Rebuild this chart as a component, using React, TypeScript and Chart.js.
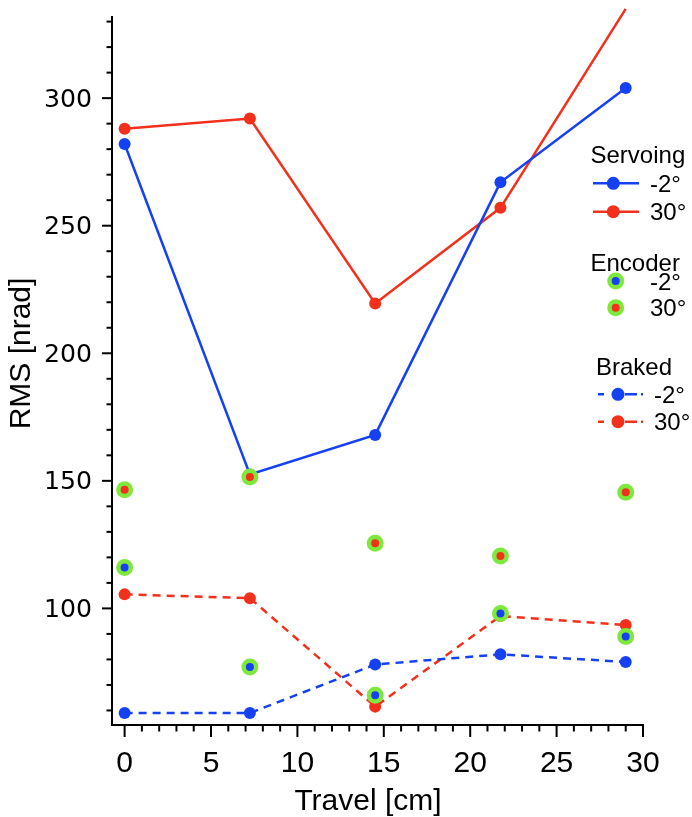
import React, { useEffect, useRef } from 'react';
import { Chart, registerables } from 'chart.js';

Chart.register(...registerables);

// ---- data ----
const travel = [0, 7.25, 14.5, 21.75, 29];
const servoM2 = [282, 152.5, 168, 267, 304];
const servo30 = [288, 292, 219.5, 257, 335];
const encoderM2 = [116, 77, 66, 98, 89];
const encoder30 = [146.5, 151.5, 125.5, 120.5, 145.5];
const brakedM2 = [59, 59, 78, 82, 79];
const braked30 = [105.5, 104, 61.5, 97, 93.5];

const xTickValues = [0, 5, 10, 15, 20, 25, 30];
const xTickLabels = ['0', '5', '10', '15', '20', '25', '30'];
const yTickValues = [100, 150, 200, 250, 300];
const yTickLabels = ['100', '150', '200', '250', '300'];

const legendGroups = ['Servoing', 'Encoder', 'Braked'];
const legendItems = ['-2°', '30°'];

const xTitle = 'Travel [cm]';
const yTitle = 'RMS [nrad]';

// ---- style ----
const BLUE = '#1541f2';
const RED = '#f2301b';
const GREEN = '#7ee83c';

const pts = (ys: number[]) => travel.map((x, i) => ({ x, y: ys[i] }));

const axisPlugin = {
  id: 'customAxes',
  afterDraw(chart: any) {
    const { ctx, scales, chartArea } = chart;
    const xs = scales.x;
    const ys = scales.y;
    ctx.save();
    ctx.strokeStyle = '#000';
    ctx.fillStyle = '#000';
    ctx.lineWidth = 2;
    // y ticks
    for (let v = 60; v <= 330; v += 10) {
      const py = ys.getPixelForValue(v);
      const len = v % 50 === 0 ? 10 : 5.5;
      ctx.beginPath();
      ctx.moveTo(chartArea.left - len, py);
      ctx.lineTo(chartArea.left, py);
      ctx.stroke();
    }
    // x ticks
    for (let v = 0; v <= 30; v += 1) {
      const px = xs.getPixelForValue(v);
      const len = v % 5 === 0 ? 12 : 6.5;
      ctx.beginPath();
      ctx.moveTo(px, chartArea.bottom);
      ctx.lineTo(px, chartArea.bottom + len);
      ctx.stroke();
    }
    // y tick labels
    ctx.font = "24px 'DejaVu Sans', sans-serif";
    ctx.textAlign = 'right';
    ctx.textBaseline = 'alphabetic';
    yTickValues.forEach((v, i) => {
      const py = ys.getPixelForValue(v);
      ctx.save();
      ctx.translate(chartArea.left - 20, py + 8.5);
      ctx.scale(1.05, 1);
      ctx.fillText(yTickLabels[i], 0, 0);
      ctx.restore();
    });
    // x tick labels
    ctx.font = "30px 'Liberation Sans', Arial, sans-serif";
    ctx.textAlign = 'center';
    xTickValues.forEach((v, i) => {
      const px = xs.getPixelForValue(v);
      ctx.fillText(xTickLabels[i], px, chartArea.bottom + 47);
    });
    // titles
    ctx.font = "30px 'Liberation Sans', Arial, sans-serif";
    ctx.textAlign = 'center';
    ctx.fillText(xTitle, 368, 810);
    ctx.save();
    ctx.translate(30, 353.5);
    ctx.rotate(-Math.PI / 2);
    ctx.fillText(yTitle, 0, 0);
    ctx.restore();

    // legend
    ctx.font = "24px 'Liberation Sans', Arial, sans-serif";
    ctx.textAlign = 'left';
    const colors = [BLUE, RED];
    // Servoing
    ctx.fillText(legendGroups[0], 590.5, 163);
    [183.3, 211.7].forEach((y, i) => {
      ctx.strokeStyle = colors[i];
      ctx.lineWidth = 2.5;
      ctx.setLineDash([]);
      ctx.beginPath();
      ctx.moveTo(593, y);
      ctx.lineTo(639, y);
      ctx.stroke();
      ctx.fillStyle = colors[i];
      ctx.beginPath();
      ctx.arc(613.3, y, 6.5, 0, Math.PI * 2);
      ctx.fill();
      ctx.fillStyle = '#000';
      ctx.fillText(legendItems[i], 650, y + 8.5);
    });
    // Encoder
    ctx.fillText(legendGroups[1], 590.5, 271);
    [281, 307.7].forEach((y, i) => {
      ctx.fillStyle = colors[i];
      ctx.strokeStyle = GREEN;
      ctx.lineWidth = 4.5;
      ctx.beginPath();
      ctx.arc(615.7, y, 6.25, 0, Math.PI * 2);
      ctx.fill();
      ctx.stroke();
      ctx.fillStyle = '#000';
      ctx.fillText(legendItems[i], 650, y + 8.5);
    });
    // Braked
    ctx.fillText(legendGroups[2], 596, 375);
    [394.3, 421.7].forEach((y, i) => {
      ctx.strokeStyle = colors[i];
      ctx.lineWidth = 2.5;
      ctx.setLineDash([6, 21, 12, 4]);
      ctx.beginPath();
      ctx.moveTo(598, y);
      ctx.lineTo(643, y);
      ctx.stroke();
      ctx.setLineDash([]);
      ctx.fillStyle = colors[i];
      ctx.beginPath();
      ctx.arc(618, y, 6.5, 0, Math.PI * 2);
      ctx.fill();
      ctx.fillStyle = '#000';
      ctx.fillText(legendItems[i], 654, y + 8.5);
    });
    ctx.restore();
  },
};

export default function App() {
  const ref = useRef<HTMLCanvasElement>(null);
  useEffect(() => {
    if (!ref.current) return;
    const servoBase = {
      borderWidth: 2.5,
      pointRadius: 6,
      pointBorderWidth: 0,
      showLine: true,
      clip: false as any,
      order: 1,
    };
    const brakedBase = {
      borderWidth: 2.5,
      borderDash: [8, 6],
      pointRadius: 6,
      pointBorderWidth: 0,
      showLine: true,
      clip: false as any,
      order: 2,
    };
    const encBase = {
      showLine: false,
      pointRadius: 6.25,
      pointBorderWidth: 4.5,
      pointBorderColor: GREEN,
      clip: false as any,
      order: 0,
    };
    const chart = new Chart(ref.current, {
      type: 'line',
      data: {
        datasets: [
          { ...encBase, label: 'Encoder -2°', data: pts(encoderM2), pointBackgroundColor: BLUE, borderColor: GREEN, backgroundColor: BLUE },
          { ...encBase, label: 'Encoder 30°', data: pts(encoder30), pointBackgroundColor: RED, borderColor: GREEN, backgroundColor: RED },
          { ...servoBase, label: 'Servoing -2°', data: pts(servoM2), borderColor: BLUE, backgroundColor: BLUE, pointBackgroundColor: BLUE },
          { ...servoBase, label: 'Servoing 30°', data: pts(servo30), borderColor: RED, backgroundColor: RED, pointBackgroundColor: RED },
          { ...brakedBase, label: 'Braked -2°', data: pts(brakedM2), borderColor: BLUE, backgroundColor: BLUE, pointBackgroundColor: BLUE },
          { ...brakedBase, label: 'Braked 30°', data: pts(braked30), borderColor: RED, backgroundColor: RED, pointBackgroundColor: RED },
        ],
      },
      options: {
        responsive: false,
        animation: false,
        events: [],
        layout: { padding: { left: 112, right: 49, top: 17, bottom: 92 } },
        plugins: { legend: { display: false }, tooltip: { enabled: false } },
        scales: {
          x: {
            type: 'linear',
            min: -0.73,
            max: 30,
            ticks: { display: false },
            grid: { display: false, drawTicks: false },
            border: { display: true, color: '#000', width: 2 },
          },
          y: {
            type: 'linear',
            min: 54.3,
            max: 331.8,
            ticks: { display: false },
            grid: { display: false, drawTicks: false },
            border: { display: true, color: '#000', width: 2 },
          },
        },
      },
      plugins: [axisPlugin],
    });
    return () => chart.destroy();
  }, []);
  return (
    <div style={{ position: 'absolute', left: 0, top: 0, width: 692, height: 817 }}>
      <canvas ref={ref} width={692} height={817} style={{ display: 'block' }} />
    </div>
  );
}
